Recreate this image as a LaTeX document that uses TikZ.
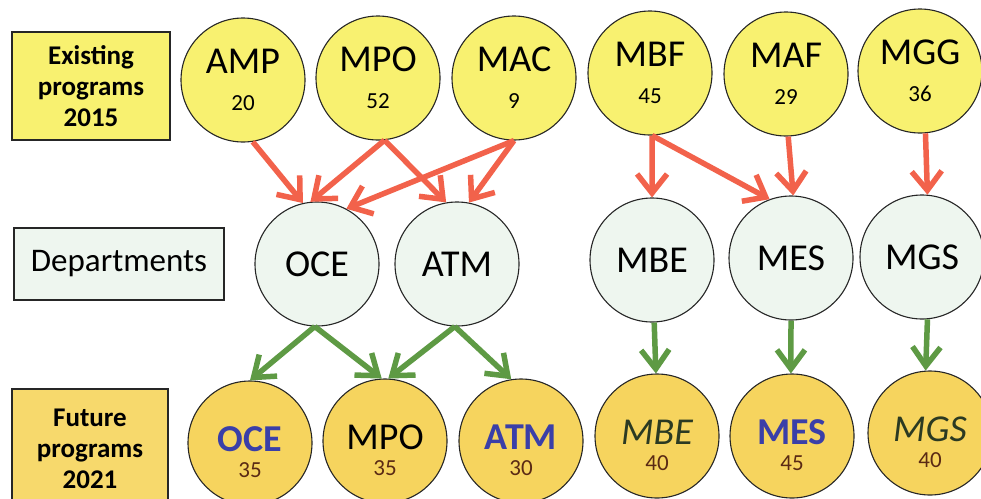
\documentclass[tikz,border=0pt]{standalone}
\usepackage{fontspec}
\setmainfont{Carlito}
\usetikzlibrary{arrows.meta}
\definecolor{ylw}{HTML}{F8F170}
\definecolor{gold}{HTML}{F6D45E}
\definecolor{futbox}{HTML}{F7D96C}
\definecolor{mint}{HTML}{EEF6EF}
\definecolor{redar}{HTML}{F2624B}
\definecolor{grnar}{HTML}{5E9A44}
\definecolor{bluet}{HTML}{3A3FA8}
\definecolor{itgreen}{HTML}{2B3A22}
\definecolor{numbrown}{HTML}{5A2A14}
\newcommand\progtext[2]{#1\\{\fontsize{23}{37}\selectfont #2}}
\newcommand\futtext[3]{{\rule{0pt}{44pt}#1#2}\\{\fontsize{23}{26}\selectfont\color{numbrown}#3}}
\begin{document}
\begin{tikzpicture}[x=1pt,y=-1pt,
  circ/.style={circle, draw=black!85, line width=1.1pt, minimum size=124pt, inner sep=0pt, align=center, font=\fontsize{38}{37}\selectfont},
  prog/.style={circ, fill=ylw},
  dept/.style={circ, fill=mint},
  fut/.style={circ, fill=gold, font=\fontsize{38}{26}\selectfont},
  rowbox/.style={draw=black!85, line width=1.1pt, inner sep=0pt, align=center},
  redarrow/.style={draw=redar, line width=5.5pt, -{Straight Barb[length=19pt,width=30pt]}},
  grnarrow/.style={draw=grnar, line width=5.5pt, -{Straight Barb[length=19pt,width=28pt]}}
]
\useasboundingbox (0,0) rectangle (981,498);
\clip (0,0) rectangle (981,498);

% row labels
\node[rowbox, fill=ylw, minimum width=158pt, minimum height=108pt,
  font=\bfseries\fontsize{27}{31}\selectfont] (exist) at (91,86) {Existing\\programs\\2015};
\node[rowbox, fill=mint, minimum width=210pt, minimum height=72pt,
  font=\fontsize{33}{36}\selectfont] (deps) at (119,264) {Departments};
\node[rowbox, fill=futbox, minimum width=156pt, minimum height=119pt,
  font=\bfseries\fontsize{27}{31}\selectfont] (future) at (90,448.5) {Future\\programs\\2021};

% existing programs
\node[prog] (amp) at (243,80) {\progtext{AMP}{20}};
\node[prog] (mpo) at (378,78) {\progtext{MPO}{52}};
\node[prog] (mac) at (514,78) {\progtext{MAC}{9}};
\node[prog] (mbf) at (650,73) {\progtext{MBF}{45}};
\node[prog] (maf) at (786,74) {\progtext{MAF}{29}};
\node[prog] (mgg) at (920,71) {\progtext{MGG}{36}};

% departments
\node[dept] (oce) at (317,264) {OCE};
\node[dept] (atm) at (457,264) {ATM};
\node[dept] (mbe) at (652,260) {MBE};
\node[dept] (mes) at (791,258) {MES};
\node[dept] (mgs) at (922,257) {MGS};

% future programs
\node[fut] (foce) at (250,443) {\futtext{\bfseries\color{bluet}}{OCE}{35}};
\node[fut] (fmpo) at (385,441) {\futtext{}{MPO}{35}};
\node[fut] (fatm) at (521,441) {\futtext{\bfseries\color{bluet}}{ATM}{30}};
\node[fut] (fmbe) at (657,436) {\futtext{\itshape\color{itgreen}}{MBE}{40}};
\node[fut] (fmes) at (792,436) {\futtext{\bfseries\color{bluet}}{MES}{45}};
\node[fut] (fmgs) at (930,433) {\futtext{\itshape\color{itgreen}}{MGS}{40}};

% red arrows
\draw[redarrow] (amp.279) -- (oce.103);
\draw[redarrow] (mpo.276) -- (oce.96);
\draw[redarrow] (mpo.276) -- (atm.100);
\draw[redarrow] (mac.270) -- (oce.62);
\draw[redarrow] (mac.270) -- (atm.79);
\draw[redarrow] (mbf.272) -- (mbe.90);
\draw[redarrow] (mbf.272) -- (mes.110);
\draw[redarrow] (maf.272) -- (mes.88);
\draw[redarrow] (mgg.275) -- (mgs.85);

% green arrows
\draw[grnarrow] (oce.268) -- (foce.90);
\draw[grnarrow] (oce.268) -- (fmpo.93);
\draw[grnarrow] (atm.268) -- (fmpo.87);
\draw[grnarrow] (atm.268) -- (fatm.99);
\draw[grnarrow] (mbe.272) -- (fmbe.91);
\draw[grnarrow] (mes.270) -- (fmes.91);
\draw[grnarrow] (mgs.275) -- (fmgs.94);
\end{tikzpicture}
\end{document}
